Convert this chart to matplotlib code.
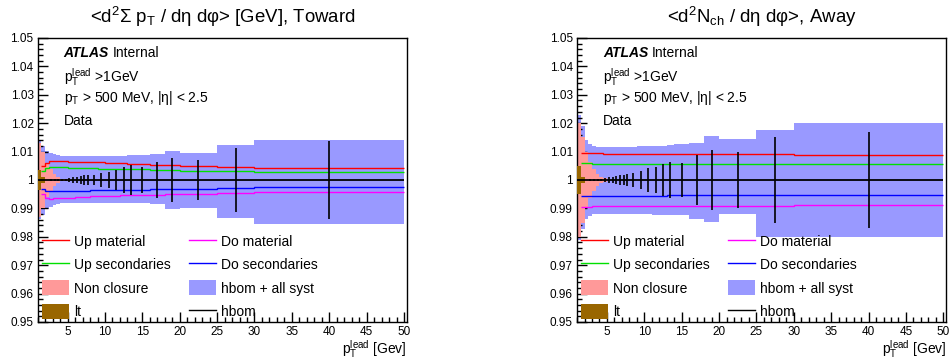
import numpy as np
import matplotlib
matplotlib.use("Agg")
import matplotlib.pyplot as plt
from matplotlib.lines import Line2D
from matplotlib.patches import Patch
from matplotlib.ticker import MultipleLocator, FuncFormatter

plt.rcParams['font.family'] = ['Liberation Sans', 'DejaVu Sans']
plt.rcParams['mathtext.fontset'] = 'custom'
plt.rcParams['mathtext.rm'] = 'Liberation Sans'
plt.rcParams['mathtext.it'] = 'Liberation Sans:italic'
plt.rcParams['mathtext.bf'] = 'Liberation Sans:bold'
plt.rcParams['mathtext.default'] = 'regular'

# leading-track pT bins [GeV]
pt_edges = [1, 1.5, 2, 2.5, 3, 3.5, 4, 4.5, 5, 5.5, 6, 6.5, 7, 7.5, 8,
            9, 10, 11, 12, 13, 14, 16, 18, 20, 25, 30, 50]

# nominal (hbom) ratio, one entry per bin
hbom_ratio = [1.0, 1.0, 1.0, 1.0, 1.0, 1.0, 1.0, 1.0, 1.0, 1.0, 1.0, 1.0, 1.0,
              1.0, 1.0, 1.0, 1.0, 1.0, 1.0, 1.0, 1.0, 1.0, 1.0, 1.0, 1.0, 1.0]

# ---- Toward, sum pT ----
toward_stat = [0.0001, 0.0001, 0.0001, 0.0002, 0.0002, 0.0002, 0.0004, 0.0005, 0.0007,
               0.0009, 0.0012, 0.0014, 0.0016, 0.0018, 0.0019, 0.0025, 0.0029, 0.0034,
               0.0045, 0.0052, 0.0045, 0.0062, 0.0078, 0.0070, 0.0114, 0.0136]
toward_syst_up = [1.0137, 1.0120, 1.0102, 1.0095, 1.0090, 1.0087, 1.0085, 1.0084, 1.0083,
                  1.0083, 1.0083, 1.0083, 1.0083, 1.0083, 1.0083, 1.0084, 1.0085, 1.0085,
                  1.0086, 1.0087, 1.0088, 1.0090, 1.0102, 1.0095, 1.0123, 1.0140]
toward_syst_dn = [0.9862, 0.9878, 0.9898, 0.9906, 0.9912, 0.9916, 0.9918, 0.9919, 0.9920,
                  0.9920, 0.9920, 0.9920, 0.9920, 0.9920, 0.9920, 0.9920, 0.9920, 0.9920,
                  0.9919, 0.9919, 0.9918, 0.9914, 0.9899, 0.9902, 0.9866, 0.9846]
toward_nonclosure = [0.0130, 0.0100, 0.0060, 0.0040, 0.0022, 0.0010, 0.0005, 0.0002, 0, 0,
                     0, 0, 0, 0, 0, 0, 0, 0, 0, 0, 0, 0, 0, 0, 0, 0]
toward_lt = [0.0035, 0.0012, 0, 0, 0, 0, 0, 0, 0, 0, 0, 0, 0, 0, 0, 0, 0, 0, 0, 0,
             0, 0, 0, 0, 0, 0]
# variations start from the 1.5 GeV bin
toward_up_mat = [1.0050, 1.0060, 1.0066, 1.0067, 1.0067, 1.0066, 1.0066, 1.0065, 1.0065,
                 1.0064, 1.0064, 1.0063, 1.0063, 1.0063, 1.0062, 1.0061, 1.0060, 1.0059,
                 1.0058, 1.0056, 1.0054, 1.0053, 1.0049, 1.0047, 1.0043]
toward_do_mat = [0.9950, 0.9935, 0.9934, 0.9935, 0.9936, 0.9937, 0.9937, 0.9938, 0.9938,
                 0.9939, 0.9940, 0.9940, 0.9941, 0.9942, 0.9943, 0.9944, 0.9945, 0.9946,
                 0.9946, 0.9947, 0.9948, 0.9950, 0.9952, 0.9955, 0.9959]
toward_up_sec = [1.0030, 1.0042, 1.0044, 1.0044, 1.0044, 1.0044, 1.0044, 1.0043, 1.0043,
                 1.0043, 1.0042, 1.0042, 1.0041, 1.0041, 1.0040, 1.0040, 1.0039, 1.0039,
                 1.0038, 1.0037, 1.0036, 1.0035, 1.0032, 1.0031, 1.0029]
toward_do_sec = [0.9970, 0.9962, 0.9960, 0.9960, 0.9960, 0.9960, 0.9960, 0.9961, 0.9961,
                 0.9961, 0.9962, 0.9962, 0.9962, 0.9963, 0.9963, 0.9964, 0.9964, 0.9965,
                 0.9965, 0.9966, 0.9967, 0.9968, 0.9970, 0.9972, 0.9974]

# ---- Away, Nch ----
away_stat = [0.0001, 0.0001, 0.0001, 0.0002, 0.0002, 0.0003, 0.0005, 0.0007, 0.0009,
             0.0011, 0.0013, 0.0016, 0.0019, 0.0022, 0.0023, 0.0032, 0.0041, 0.0047,
             0.0057, 0.0064, 0.0059, 0.0088, 0.0107, 0.0097, 0.0150, 0.0170]
away_syst_up = [1.0230, 1.0190, 1.0140, 1.0125, 1.0118, 1.0116, 1.0115, 1.0115, 1.0115,
                1.0115, 1.0115, 1.0115, 1.0116, 1.0116, 1.0117, 1.0118, 1.0119, 1.0120,
                1.0121, 1.0122, 1.0125, 1.0131, 1.0155, 1.0146, 1.0176, 1.0200]
away_syst_dn = [0.9790, 0.9826, 0.9862, 0.9873, 0.9879, 0.9880, 0.9880, 0.9880, 0.9880,
                0.9880, 0.9880, 0.9880, 0.9880, 0.9880, 0.9880, 0.9879, 0.9879, 0.9878,
                0.9878, 0.9877, 0.9875, 0.9864, 0.9852, 0.9879, 0.9800, 0.9800]
away_nonclosure = [0.0200, 0.0150, 0.0098, 0.0063, 0.0040, 0.0022, 0.0012, 0.0006, 0, 0,
                   0, 0, 0, 0, 0, 0, 0, 0, 0, 0, 0, 0, 0, 0, 0, 0]
away_lt = [0.0050, 0.0012, 0, 0, 0, 0, 0, 0, 0, 0, 0, 0, 0, 0, 0, 0, 0, 0, 0, 0,
           0, 0, 0, 0, 0, 0]
away_up_mat = [1.0095, 1.0095, 1.0094, 1.0094, 1.0094, 1.0094, 1.0093, 1.0093, 1.0093,
               1.0093, 1.0092, 1.0092, 1.0092, 1.0092, 1.0091, 1.0091, 1.0091, 1.0091,
               1.0091, 1.0090, 1.0090, 1.0090, 1.0090, 1.0090, 1.0087]
away_do_mat = [0.9906, 0.9906, 0.9906, 0.9907, 0.9907, 0.9907, 0.9907, 0.9908, 0.9908,
               0.9908, 0.9908, 0.9908, 0.9909, 0.9909, 0.9909, 0.9909, 0.9909, 0.9910,
               0.9910, 0.9910, 0.9910, 0.9910, 0.9910, 0.9910, 0.9912]
away_up_sec = [1.0059, 1.0059, 1.0059, 1.0058, 1.0058, 1.0058, 1.0058, 1.0058, 1.0058,
               1.0058, 1.0058, 1.0058, 1.0058, 1.0058, 1.0058, 1.0058, 1.0058, 1.0058,
               1.0058, 1.0058, 1.0058, 1.0057, 1.0057, 1.0057, 1.0057]
away_do_sec = [0.9945, 0.9945, 0.9945, 0.9945, 0.9945, 0.9945, 0.9945, 0.9945, 0.9945,
               0.9945, 0.9945, 0.9945, 0.9945, 0.9945, 0.9945, 0.9945, 0.9945, 0.9945,
               0.9946, 0.9946, 0.9946, 0.9946, 0.9946, 0.9946, 0.9946]

C_SYST = '#9999ff'
C_NONCL = '#ff9999'
C_LT = '#996600'
C_UPMAT = '#ff0000'
C_DOMAT = '#ff00ff'
C_UPSEC = '#00e000'
C_DOSEC = '#0000ff'


def draw_panel(ax, title, stat, syst_up, syst_dn, nonclos, lt, up_mat, do_mat, up_sec, do_sec):
    edges = np.array(pt_edges, dtype=float)
    centers = 0.5 * (edges[:-1] + edges[1:])
    nom = np.array(hbom_ratio)
    nonclos = np.array(nonclos)
    lt = np.array(lt)

    # total systematic envelope
    ax.stairs(syst_up, edges, baseline=syst_dn, fill=True, color=C_SYST, lw=0, zorder=1)
    ax.stairs(nom + nonclos, edges, baseline=nom - nonclos, fill=True, color=C_NONCL, lw=0, zorder=2)
    # variations
    for vals, col in [(up_mat, C_UPMAT), (do_mat, C_DOMAT), (up_sec, C_UPSEC), (do_sec, C_DOSEC)]:
        ax.stairs(vals, edges[1:], baseline=None, color=col, lw=1.0, zorder=3)
    ax.stairs(nom + lt, edges, baseline=nom - lt, fill=True, color=C_LT, lw=0, zorder=4)
    # nominal with stat errors
    ax.stairs(nom, edges, baseline=None, color='black', lw=1.3, zorder=5)
    ax.errorbar(centers, nom, yerr=stat, fmt='none', ecolor='black', elinewidth=1.2, zorder=6)

    ax.set_xlim(1, 50.4)
    ax.set_ylim(0.95, 1.05)
    ax.xaxis.set_major_locator(MultipleLocator(5))
    ax.xaxis.set_minor_locator(MultipleLocator(1))
    ax.yaxis.set_major_locator(MultipleLocator(0.01))
    ax.yaxis.set_minor_locator(MultipleLocator(0.002))
    ax.yaxis.set_major_formatter(FuncFormatter(lambda v, p: f'{v:g}'))
    ax.tick_params(which='both', direction='in', top=False, right=False, labelsize=8.5)
    ax.tick_params(which='major', length=7.5, width=1.0)
    ax.tick_params(which='minor', length=3.8, width=1.0)
    ax.tick_params(axis='y', pad=3)
    ax.tick_params(axis='x', pad=3)
    for sp in ax.spines.values():
        sp.set_linewidth(1.0)

    ax.text(0.5, 1.053, title, transform=ax.transAxes, ha='center', va='baseline', fontsize=13.4)
    ax.text(1.0, -0.11, r'p$_{T}^{lead}$ [Gev]', transform=ax.transAxes, ha='right',
            va='baseline', fontsize=10)

    ax.text(0.07, 0.934, 'ATLAS', transform=ax.transAxes, fontsize=10, fontweight='bold',
            fontstyle='italic', va='baseline')
    ax.text(0.202, 0.934, 'Internal', transform=ax.transAxes, fontsize=10, va='baseline')
    ax.text(0.07, 0.846, r'p$_{T}^{lead}$ >1GeV', transform=ax.transAxes, fontsize=10, va='baseline')
    ax.text(0.07, 0.776, r'p$_{T}$ > 500 MeV, |η| < 2.5', transform=ax.transAxes, fontsize=10,
            va='baseline')
    ax.text(0.07, 0.694, 'Data', transform=ax.transAxes, fontsize=10, va='baseline')

    handles = [Line2D([], [], color=C_UPMAT, lw=1.0),
               Line2D([], [], color=C_UPSEC, lw=1.0),
               Patch(facecolor=C_NONCL, edgecolor='none'),
               Patch(facecolor=C_LT, edgecolor='none'),
               Line2D([], [], color=C_DOMAT, lw=1.0),
               Line2D([], [], color=C_DOSEC, lw=1.0),
               Patch(facecolor=C_SYST, edgecolor='none'),
               Line2D([], [], color='black', lw=1.0)]
    labels = ['Up material', 'Up secondaries', 'Non closure', 'lt',
              'Do material', 'Do secondaries', 'hbom + all syst', 'hbom']
    ax.legend(handles, labels, ncol=2, loc='lower left', bbox_to_anchor=(0.011, 0.011),
              frameon=False, fontsize=10, handlelength=1.95, handleheight=1.25,
              labelspacing=0.6, columnspacing=1.3, handletextpad=0.36,
              borderpad=0, borderaxespad=0)


fig = plt.figure(figsize=(9.5, 3.6), dpi=100)
ax1 = fig.add_axes([0.0397, 0.1056, 0.3887, 0.7889])
ax2 = fig.add_axes([0.6074, 0.1056, 0.3887, 0.7889])

draw_panel(ax1, r'<d$^{2}$Σ p$_{T}$ / dη dφ> [GeV], Toward', toward_stat,
           toward_syst_up, toward_syst_dn, toward_nonclosure, toward_lt,
           toward_up_mat, toward_do_mat, toward_up_sec, toward_do_sec)
draw_panel(ax2, r'<d$^{2}$N$_{ch}$ / dη dφ>, Away', away_stat,
           away_syst_up, away_syst_dn, away_nonclosure, away_lt,
           away_up_mat, away_do_mat, away_up_sec, away_do_sec)

fig.savefig('out.png', dpi=100)
